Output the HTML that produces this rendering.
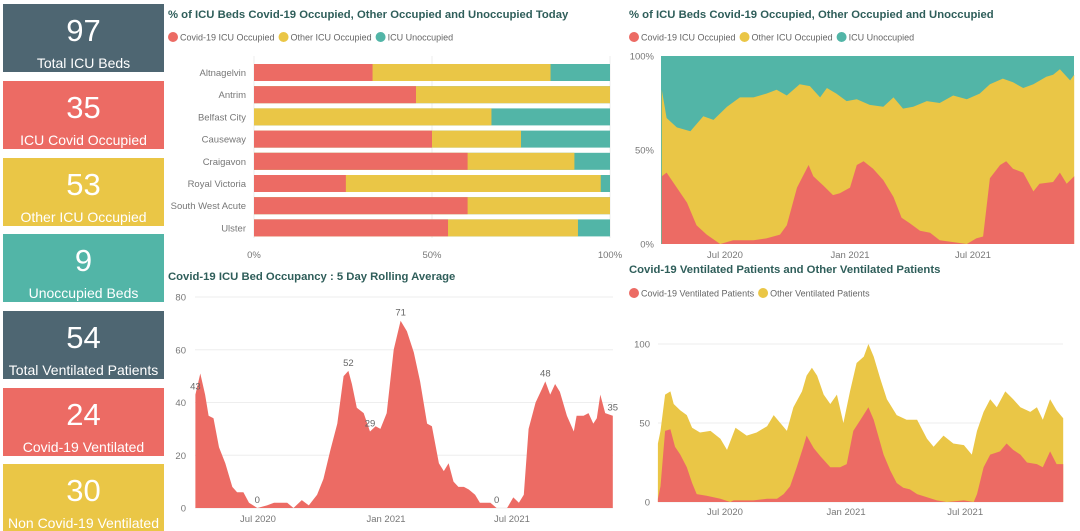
<!DOCTYPE html>
<html><head><meta charset="utf-8">
<style>
body{margin:0;width:1080px;height:531px;background:#fff;overflow:hidden;font-family:"Liberation Sans",sans-serif;position:relative}
.card{position:absolute;left:3px;width:161px;height:68px;color:#fff;text-align:center}
.card .num{position:absolute;left:0;right:0;top:11px;font-size:31px;line-height:32px}
.card .lbl{position:absolute;left:0;right:0;top:51px;font-size:14px;line-height:16px;white-space:nowrap}
svg{position:absolute;left:0;top:0}
</style></head><body>
<div class="card" style="top:4px;background:#4e6672"><div class="num">97</div><div class="lbl">Total ICU Beds</div></div>
<div class="card" style="top:81px;background:#ec6b64"><div class="num">35</div><div class="lbl">ICU Covid Occupied</div></div>
<div class="card" style="top:158px;background:#eac646"><div class="num">53</div><div class="lbl">Other ICU Occupied</div></div>
<div class="card" style="top:234px;background:#52b5a7"><div class="num">9</div><div class="lbl">Unoccupied Beds</div></div>
<div class="card" style="top:311px;background:#4e6672"><div class="num">54</div><div class="lbl">Total Ventilated Patients</div></div>
<div class="card" style="top:388px;background:#ec6b64"><div class="num">24</div><div class="lbl">Covid-19 Ventilated</div></div>
<div class="card" style="top:464px;background:#eac646;height:67px"><div class="num">30</div><div class="lbl">Non Covid-19 Ventilated</div></div>
<svg id="s" width="1080" height="531" font-family="Liberation Sans, sans-serif"></svg>
<script>
// Bar chart data
const hospitals=["Altnagelvin","Antrim","Belfast City","Causeway","Craigavon","Royal Victoria","South West Acute","Ulster"];
const barCovid=[33.3,45.5,0,50,60,25.8,60,54.5];
const barOther=[50,54.5,66.7,25,30,71.6,40,36.5];
const barTicks=["0%","50%","100%"];
// Rolling avg
const raDays=[0,7,14,19,26,34,43,53,60,69,77,89,103,113,132,141,153,163,175,184,194,204,213,220,225,232,242,251,259,266,275,285,295,304,314,323,333,340,350,357,364,371,378,386,393,402,409,424,433,448,457,465,472,479,489,498,503,510,517,524,534,544,548,558,565,572,577,582,589,600];
const raVals=[43,51,43,35,34,23,17,8,6,6,2,0,1,2,2,0,3,1,5,11,22,32,50,52,47,38,36,29,31,30,36,60,71,67,59,48,32,31,17,14,17,10,8,8,7,5,2,2,0,0,4,2,5,30,40,45,48,43,47,44,35,29,35,35,36,32,34,43,36,35];
const raLabelIdx=[0,23,27,32,11,48,56,69];
const raTicks=[0,20,40,60,80];
// Pct stacked
const pcRedDays=[-3,4,19,34,48,63,83,102,132,151,171,181,196,213,220,235,249,259,274,284,294,308,323,338,350,362,377,392,406,426,446,460,470,480,495,504,514,529,544,553,573,583,593,604];
const pcRed=[36,38,30,22,10,5,0,2,2,3,5,10,30,42,36,31,26,27,30,42,44,40,34,25,14,11,7,6,2,1,0,3,4,35,42,44,40,38,28,32,33,38,32,36];
const pcOccDays=[-3,4,19,39,58,73,93,112,132,151,166,181,200,215,230,240,254,269,284,303,323,338,352,367,387,406,426,446,465,480,499,514,529,544,563,573,583,598,604];
const pcOcc=[82,67,62,60,68,66,73,78,78,80,82,79,85,84,78,83,80,76,77,74,73,78,72,73,76,75,79,77,80,85,88,86,83,85,89,90,93,87,90];
const pcTicks=["0%","50%","100%"];
// Ventilated
const vRedDays=[-12,-8,-1,7,14,22,32,40,47,62,83,98,103,133,154,169,179,189,199,209,214,225,235,250,265,275,285,296,308,316,331,341,351,361,371,382,397,412,427,453,468,473,483,493,508,518,528,539,549,564,573,584,594,604];
const vRed=[2,10,45,46,35,30,22,12,5,4,2,0,1,1,2,2,5,10,22,35,42,34,29,22,22,24,45,52,60,52,30,20,12,9,8,5,3,1,0,1,0,5,22,30,32,37,33,30,25,24,22,32,24,24];
const vTotDays=[-12,-8,-1,7,12,22,32,40,52,68,83,93,106,123,138,154,164,174,184,194,207,214,222,230,240,250,260,270,280,290,301,308,316,326,336,351,366,382,397,407,422,437,453,465,473,483,493,503,516,528,539,554,564,573,584,594,604];
const vTot=[37,45,68,70,62,58,55,47,44,45,40,33,47,42,44,48,55,50,45,60,70,80,85,80,68,62,68,50,70,88,92,100,92,78,65,55,52,52,40,35,42,37,36,30,45,57,65,60,70,65,60,57,60,52,65,58,53];
const vTicks=[0,50,100];
const dateTicks=["Jul 2020","Jan 2021","Jul 2021"];
const dateTickDays=[90,274,455];

const s=document.getElementById('s');
const NS='http://www.w3.org/2000/svg';
function mk(tag,attrs,name,text){const e=document.createElementNS(NS,tag);for(const k in attrs)e.setAttribute(k,attrs[k]);


if(text!==undefined)e.textContent=text;s.appendChild(e);return e;}
const RED='#ec6b64',YEL='#eac646',TEAL='#52b5a7',TXT='#777',TITLE='#2f5e5a';

function legend(x,y,items){let cx=x;items.forEach(it=>{mk('circle',{cx:cx+5,cy:y,r:5,fill:it[1]},'legend-marker');const t=mk('text',{x:cx+12,y:y+3.5,'font-size':9,fill:'#666'},'legend-entry',it[0]);cx+=12+t.getComputedTextLength()+4;});}
function title(x,y,t){mk('text',{x:x,y:y,'font-size':11.3,'font-weight':'bold',fill:TITLE},'chart-title',t);}

// ---- Bar chart
title(168,18,"% of ICU Beds Covid-19 Occupied, Other Occupied and Unoccupied Today");
legend(168,37,[["Covid-19 ICU Occupied",RED],["Other ICU Occupied",YEL],["ICU Unoccupied",TEAL]]);
const bx=p=>254+p/100*356, by=i=>64+i*22.2, bh=17;
[0,50,100].forEach((v,i)=>{mk('line',{x1:bx(v),x2:bx(v),y1:56,y2:238,stroke:'#eee'},'x-gridline');
mk('text',{x:bx(v),y:258,'font-size':9.5,fill:TXT,'text-anchor':'middle'},'x-tick-label',barTicks[i]);});
hospitals.forEach((h,i)=>{const y=by(i);
mk('text',{x:246,y:y+bh/2+3.5,'font-size':9.5,fill:TXT,'text-anchor':'end'},'y-tick-label',h);
mk('rect',{x:bx(0),y:y,width:bx(100)-bx(0),height:bh,fill:TEAL},'bar-unoccupied');
mk('rect',{x:bx(0),y:y,width:bx(barCovid[i]+barOther[i])-bx(0),height:bh,fill:YEL},'bar-other');
mk('rect',{x:bx(0),y:y,width:bx(barCovid[i])-bx(0),height:bh,fill:RED},'bar-covid');});

function areaPath(days,vals,xf,yf,y0){let d='M'+xf(days[0])+','+y0;days.forEach((dd,i)=>{d+='L'+xf(dd).toFixed(1)+','+yf(vals[i]).toFixed(1);});d+='L'+xf(days[days.length-1])+','+y0+'Z';return d;}

// ---- Rolling average
title(168,280,"Covid-19 ICU Bed Occupancy : 5 Day Rolling Average");
const rx=d=>258+(d-90)*0.6957, ry=v=>508-v*2.6375;
raTicks.forEach(v=>{mk('line',{x1:195,x2:613,y1:ry(v),y2:ry(v),stroke:'#eee'},'y-gridline');
mk('text',{x:186,y:ry(v)+3.5,'font-size':9.5,fill:TXT,'text-anchor':'end'},'y-tick-label',v);});
mk('path',{d:areaPath(raDays,raVals,rx,ry,508),fill:RED},'rolling-average-area');
raLabelIdx.forEach(i=>{mk('text',{x:rx(raDays[i]),y:ry(raVals[i])-5,'font-size':9.5,fill:'#666','text-anchor':'middle'},'data-label',raVals[i]);});
dateTicks.forEach((t,i)=>mk('text',{x:rx(dateTickDays[i]),y:522,'font-size':9.5,fill:TXT,'text-anchor':'middle'},'x-tick-label',t));

// ---- Pct stacked
title(629,18,"% of ICU Beds Covid-19 Occupied, Other Occupied and Unoccupied");
legend(629,37,[["Covid-19 ICU Occupied",RED],["Other ICU Occupied",YEL],["ICU Unoccupied",TEAL]]);
const px=d=>725+(d-90)*0.6793, py=v=>244-v*1.88;
mk('rect',{x:661,y:56,width:413,height:188,fill:TEAL},'unoccupied-area');
mk('path',{d:areaPath(pcOccDays,pcOcc,px,py,244),fill:YEL},'other-occupied-area');
mk('path',{d:areaPath(pcRedDays,pcRed,px,py,244),fill:RED},'covid-occupied-area');
[0,50,100].forEach((v,i)=>mk('text',{x:654,y:py(v)+3.5,'font-size':9.5,fill:TXT,'text-anchor':'end'},'y-tick-label',pcTicks[i]));
dateTicks.forEach((t,i)=>mk('text',{x:px(dateTickDays[i]),y:258,'font-size':9.5,fill:TXT,'text-anchor':'middle'},'x-tick-label',t));

// ---- Ventilated
title(629,273,"Covid-19 Ventilated Patients and Other Ventilated Patients");
legend(629,293,[["Covid-19 Ventilated Patients",RED],["Other Ventilated Patients",YEL]]);
const vx=d=>725+(d-90)*0.658, vy=v=>502-v*1.58;
vTicks.forEach(v=>{mk('line',{x1:658,x2:1063,y1:vy(v),y2:vy(v),stroke:'#eee'},'y-gridline');
mk('text',{x:650,y:vy(v)+3.5,'font-size':9.5,fill:TXT,'text-anchor':'end'},'y-tick-label',v);});
mk('path',{d:areaPath(vTotDays,vTot,vx,vy,502),fill:YEL},'other-ventilated-area');
mk('path',{d:areaPath(vRedDays,vRed,vx,vy,502),fill:RED},'covid-ventilated-area');
dateTicks.forEach((t,i)=>mk('text',{x:vx(dateTickDays[i]),y:515,'font-size':9.5,fill:TXT,'text-anchor':'middle'},'x-tick-label',t));
</script>
</body></html>
